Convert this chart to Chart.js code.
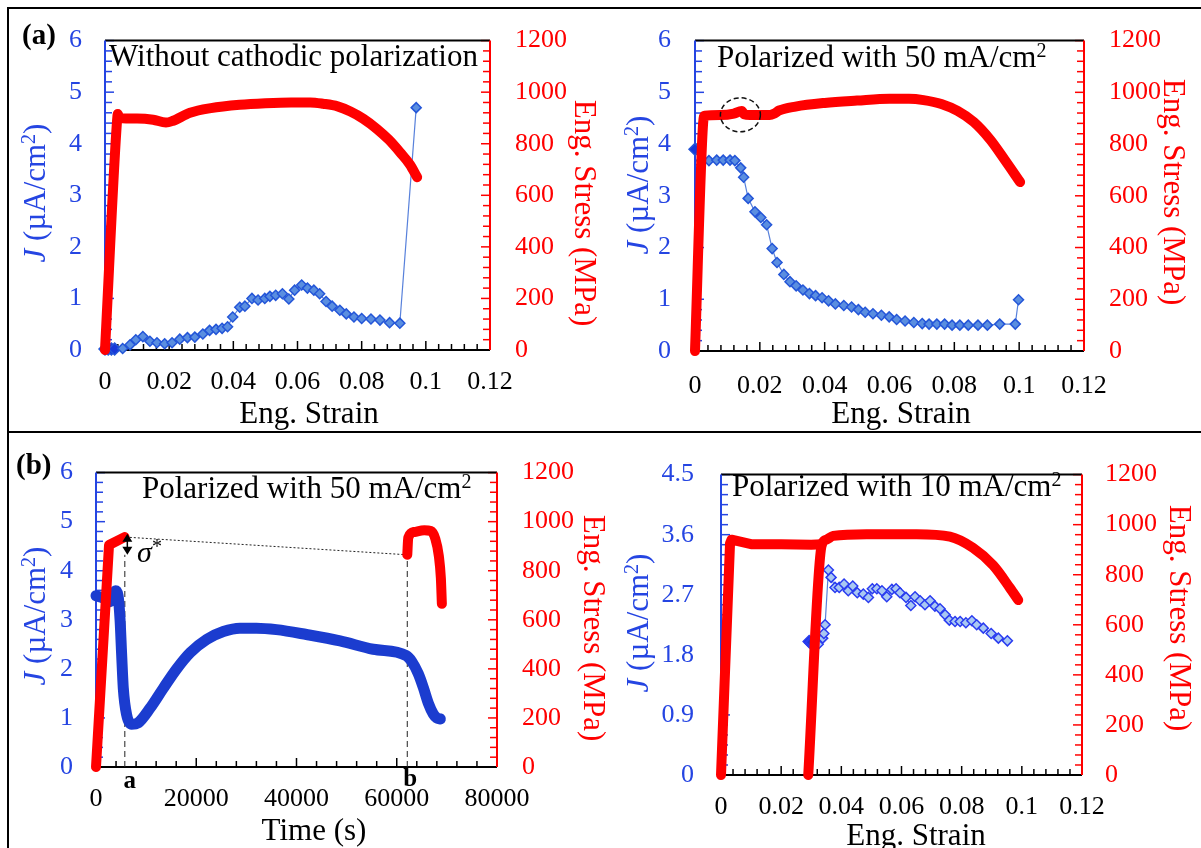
<!DOCTYPE html>
<html lang="en">
<head>
<meta charset="UTF-8">
<title>Current density and stress vs strain</title>
<script src="https://cdn.jsdelivr.net/npm/chart.js"></script>
<style>
  html, body { margin: 0; padding: 0; background: #fff; }
  body { width: 1201px; height: 848px; position: relative; overflow: hidden; }
  canvas { position: absolute; }
  .rule { position: absolute; background: #000; }
</style>
</head>
<body>
<canvas id="chartA" width="600" height="432" style="left:0;top:0"></canvas>
<canvas id="chartB" width="601" height="432" style="left:600px;top:0"></canvas>
<canvas id="chartC" width="620" height="416" style="left:0;top:432px"></canvas>
<canvas id="chartD" width="601" height="416" style="left:600px;top:432px"></canvas>
<div class="rule" style="left:7px;top:7px;width:1194px;height:2px"></div>
<div class="rule" style="left:7px;top:7px;width:2px;height:841px"></div>
<div class="rule" style="left:7px;top:431px;width:1194px;height:2px"></div>
<script>
// (a) left: without cathodic polarization
var strainJa = [0, 0.001, 0.002, 0.003, 0.0055, 0.0078, 0.0096, 0.0118, 0.014, 0.0162, 0.0186, 0.0209, 0.0233, 0.0257, 0.028, 0.0305, 0.0326, 0.0346, 0.0365, 0.0382, 0.0398, 0.042, 0.0436, 0.0458, 0.0477, 0.0498, 0.0514, 0.0532, 0.0553, 0.0573, 0.0591, 0.0613, 0.0631, 0.0651, 0.0669, 0.0689, 0.0708, 0.0732, 0.0752, 0.0776, 0.08, 0.0829, 0.0857, 0.0887, 0.0919, 0.097];
var jA = [0.02, 0.02, 0.02, 0.02, 0.03, 0.1, 0.2, 0.26, 0.17, 0.14, 0.12, 0.14, 0.21, 0.24, 0.25, 0.31, 0.38, 0.4, 0.42, 0.45, 0.64, 0.83, 0.85, 1.0, 0.97, 1.0, 1.04, 1.06, 1.09, 0.99, 1.16, 1.26, 1.2, 1.16, 1.09, 0.94, 0.85, 0.77, 0.7, 0.64, 0.61, 0.6, 0.58, 0.53, 0.52, 4.7];
var strainSa = [0, 0.0037, 0.004, 0.0045, 0.01, 0.015, 0.019, 0.021, 0.0265, 0.033, 0.042, 0.05, 0.058, 0.064, 0.068, 0.0725, 0.0765, 0.0805, 0.0848, 0.0885, 0.092, 0.095, 0.0973];
var stressA = [0, 880, 915, 900, 898, 893, 882, 888, 920, 938, 951, 957, 960, 960, 955, 945, 925, 897, 857, 815, 766, 720, 670];

// (a) right: polarized with 50 mA/cm2
var strainJb = [0, 0.002, 0.0043, 0.0067, 0.0087, 0.0108, 0.0123, 0.0141, 0.015, 0.0164, 0.0185, 0.0203, 0.0221, 0.0238, 0.0253, 0.0274, 0.0293, 0.0312, 0.0333, 0.0353, 0.0372, 0.0392, 0.0412, 0.0433, 0.0459, 0.0483, 0.0504, 0.0525, 0.0549, 0.0575, 0.0599, 0.0622, 0.0648, 0.0675, 0.0701, 0.0722, 0.0746, 0.077, 0.0793, 0.0817, 0.0843, 0.0873, 0.0902, 0.094, 0.0988, 0.0998];
var jB = [3.9, 3.68, 3.68, 3.69, 3.69, 3.69, 3.68, 3.54, 3.36, 2.95, 2.69, 2.58, 2.44, 1.98, 1.71, 1.48, 1.34, 1.26, 1.18, 1.11, 1.07, 1.03, 0.97, 0.91, 0.88, 0.85, 0.8, 0.75, 0.72, 0.69, 0.66, 0.61, 0.58, 0.55, 0.53, 0.52, 0.52, 0.52, 0.5, 0.5, 0.5, 0.5, 0.5, 0.52, 0.52, 0.99];
var strainSb = [0, 0.0025, 0.003, 0.008, 0.012, 0.0144, 0.0152, 0.017, 0.023, 0.0245, 0.026, 0.031, 0.04, 0.05, 0.06, 0.066, 0.0705, 0.076, 0.081, 0.086, 0.091, 0.0955, 0.1003];
var stressB = [0, 880, 910, 912, 918, 928, 915, 912, 912, 918, 930, 945, 959, 968, 975, 975, 970, 955, 928, 885, 818, 740, 653];

// (b) left: polarized with 50 mA/cm2, vs time
var timeJc = [0, 1500, 2800, 3500, 3900, 4400, 4800, 5100, 5450, 6100, 7100, 8400, 10800, 13400, 16100, 18800, 22100, 25400, 28700, 32000, 36000, 42000, 48700, 55300, 61900, 63000, 64300, 65300, 66300, 67300, 68000, 68700];
var jC = [3.49, 3.44, 3.37, 3.5, 3.59, 3.49, 3.0, 2.33, 1.6, 1.07, 0.87, 0.9, 1.2, 1.6, 2.0, 2.33, 2.6, 2.76, 2.83, 2.83, 2.8, 2.7, 2.57, 2.4, 2.27, 2.15, 1.9, 1.62, 1.3, 1.08, 1.0, 0.98];
var timeSc1 = [0, 2600, 5700];
var stressC1 = [0, 905, 937];
var timeSc2 = [62100, 62300, 63500, 65500, 66800, 67700, 68400, 68800, 69000];
var stressC2 = [865, 935, 958, 965, 962, 930, 860, 770, 665];
var markA = 5750, markB = 62100;
var sigmaTop = 951, sigmaLow = 865;

// (b) right: polarized with 10 mA/cm2
var strainJd = [0.0293, 0.0298, 0.0303, 0.0323, 0.0338, 0.0342, 0.0346, 0.0357, 0.0366, 0.0379, 0.0393, 0.0409, 0.0423, 0.0438, 0.0453, 0.0473, 0.049, 0.0503, 0.0518, 0.0535, 0.0551, 0.0568, 0.0582, 0.0595, 0.0615, 0.0631, 0.0645, 0.0662, 0.0678, 0.0695, 0.0711, 0.0728, 0.0745, 0.0759, 0.0778, 0.0795, 0.0814, 0.0834, 0.085, 0.0872, 0.0898, 0.0922, 0.0952];
var jD = [2.0, 1.98, 1.99, 1.96, 2.05, 2.12, 2.25, 3.07, 2.96, 2.81, 2.81, 2.86, 2.76, 2.83, 2.73, 2.71, 2.66, 2.79, 2.79, 2.76, 2.67, 2.78, 2.79, 2.73, 2.66, 2.54, 2.67, 2.61, 2.55, 2.61, 2.53, 2.49, 2.4, 2.32, 2.3, 2.3, 2.28, 2.31, 2.25, 2.2, 2.12, 2.05, 2.01];
var strainSd1 = [0, 0.003, 0.0035, 0.01, 0.02, 0.03, 0.0335];
var stressD1 = [0, 925, 940, 922, 922, 920, 922];
var strainSd2 = [0.029, 0.0335, 0.035, 0.0373, 0.0484, 0.065, 0.0761, 0.0838, 0.0905, 0.096, 0.0988];
var stressD2 = [0, 920, 940, 955, 962, 962, 952, 907, 837, 748, 699];

// tick labels
var strainTicks = [0, 0.02, 0.04, 0.06, 0.08, 0.1, 0.12];
var timeTicks = [0, 20000, 40000, 60000, 80000];
var jTicks = [0, 1, 2, 3, 4, 5, 6];
var jTicksD = [0, 0.9, 1.8, 2.7, 3.6, 4.5];
var stressTicks = [0, 200, 400, 600, 800, 1000, 1200];

var SERIF = '"Liberation Serif", "Times New Roman", serif';
var BLUE = '#2545e2';
var RED = '#ff0000';
var F31 = '31px ' + SERIF, SUP = '20px ' + SERIF;

function pts(xs, ys) {
    return xs.map(function (v, i) { return {x: v, y: ys[i]}; });
}

function stressSet(xs, ys, straight) {
    return {
        data: pts(xs, ys), yAxisID: 'y2', showLine: true,
        borderColor: RED, backgroundColor: RED, borderWidth: 10, pointRadius: 0,
        cubicInterpolationMode: straight ? 'default' : 'monotone',
        borderCapStyle: 'round', borderJoinStyle: 'round', clip: false, order: 1
    };
}

function jSet(xs, ys, fill, edge, nDark) {
    return {
        data: pts(xs, ys), yAxisID: 'y', showLine: true,
        borderColor: 'rgba(70,115,215,0.9)', borderWidth: 1.2,
        pointStyle: 'rectRot',
        pointRadius: function (c) { return c.dataIndex < nDark ? 6 : 5; },
        pointBackgroundColor: function (c) { return c.dataIndex < nDark ? '#1838d8' : fill; },
        pointBorderColor: edge, pointBorderWidth: 1.5, clip: false, order: 2
    };
}

function guideSet(xs, ys, dash) {
    return {
        data: pts(xs, ys), yAxisID: 'y2', showLine: true, borderColor: '#222',
        borderWidth: 1, borderDash: dash, pointRadius: 0, order: 3
    };
}

function seg(ctx, x1, y1, x2, y2) {
    ctx.beginPath(); ctx.moveTo(x1, y1); ctx.lineTo(x2, y2); ctx.stroke();
}

// text in pieces (italic J, small raised 2), alphabetic baseline
function rich(ctx, parts, x, y, center) {
    var total = 0;
    parts.forEach(function (p) { ctx.font = p.f; total += ctx.measureText(p.t).width; });
    var cur = center ? x - total / 2 : x;
    parts.forEach(function (p) {
        ctx.font = p.f;
        ctx.fillText(p.t, cur, y + (p.dy || 0));
        cur += ctx.measureText(p.t).width;
    });
}

function withCm2(text) {
    return [{t: text, f: F31}, {t: '2', f: SUP, dy: -10}];
}

function minorLoop(max, step, majors, fn) {
    var n = Math.round(max / step);
    for (var i = 0; i <= n; i++) {
        var v = i * step;
        fn(v, majors.some(function (m) { return Math.abs(m - v) < step / 100; }));
    }
}

// plot frame and inward ticks, like the original
function drawFrame(chart, p) {
    var ctx = chart.ctx, a = chart.chartArea, s = chart.scales;
    ctx.save();
    ctx.lineWidth = 1.5;
    ctx.strokeStyle = '#000';
    minorLoop(p.xMax, p.xMinor, p.xTicks, function (v, major) {
        var px = s.x.getPixelForValue(v);
        seg(ctx, px, a.bottom, px, a.bottom - (major ? 9 : 6));
    });
    ctx.strokeStyle = BLUE;
    minorLoop(p.jMax, p.jMinor, p.jTicks, function (v, major) {
        var py = s.y.getPixelForValue(v);
        seg(ctx, a.left, py, a.left + (major ? 9 : 7), py);
    });
    ctx.strokeStyle = RED;
    minorLoop(1200, 40, stressTicks, function (v, major) {
        var py = s.y2.getPixelForValue(v);
        seg(ctx, a.right, py, a.right - (major ? 9 : 7), py);
    });
    ctx.lineWidth = 2;
    ctx.strokeStyle = '#000';
    seg(ctx, a.left, a.top, a.right, a.top);
    seg(ctx, a.left, a.bottom, a.right, a.bottom);
    ctx.strokeStyle = BLUE;
    seg(ctx, a.left, a.top, a.left, a.bottom);
    ctx.strokeStyle = RED;
    seg(ctx, a.right, a.top, a.right, a.bottom);
    ctx.restore();
}

function drawTexts(chart, p) {
    var ctx = chart.ctx;
    var X = function (v) { return v - p.ox; }, Y = function (v) { return v - p.oy; };
    ctx.save();
    ctx.fillStyle = '#000';
    ctx.textAlign = 'left';
    ctx.textBaseline = 'alphabetic';
    if (p.label2) rich(ctx, withCm2(p.label), X(p.labelPos[0]), Y(p.labelPos[1]), false);
    else rich(ctx, [{t: p.label, f: F31}], X(p.labelPos[0]), Y(p.labelPos[1]), false);
    rich(ctx, [{t: p.xTitle, f: F31}], X(p.xTitlePos[0]), Y(p.xTitlePos[1]) + 10, true);

    ctx.save();
    ctx.translate(X(p.jPos[0]), Y(p.jPos[1]));
    ctx.rotate(-Math.PI / 2);
    ctx.fillStyle = BLUE;
    rich(ctx, [{t: 'J', f: 'italic ' + F31}, {t: ' (\u00b5A/cm', f: F31},
        {t: '2', f: SUP, dy: -10}, {t: ')', f: F31}], 0, 10, true);
    ctx.restore();

    ctx.save();
    ctx.translate(X(p.sPos[0]), Y(p.sPos[1]));
    ctx.rotate(Math.PI / 2);
    ctx.fillStyle = RED;
    rich(ctx, [{t: 'Eng. Stress (MPa)', f: F31}], 0, 10, true);
    ctx.restore();

    if (p.tag) rich(ctx, [{t: p.tag, f: 'bold 29px ' + SERIF}], X(p.tagPos[0]), Y(p.tagPos[1]) + 10, false);
    ctx.restore();
}

function makeChart(p) {
    var W = p.W, H = p.H;
    var tickFont = {family: SERIF, size: 26};
    return new Chart(document.getElementById(p.id), {
        type: 'scatter',
        data: {datasets: p.datasets},
        options: {
            responsive: false,
            animation: false,
            devicePixelRatio: 1,
            events: [],
            layout: {padding: {top: p.area.t - p.oy, left: 0, right: 0, bottom: 0}},
            plugins: {legend: {display: false}, tooltip: {enabled: false}},
            scales: {
                x: {
                    type: 'linear', position: 'bottom', min: 0, max: p.xMax,
                    afterBuildTicks: function (s) { s.ticks = p.xTicks.map(function (v) { return {value: v}; }); },
                    afterFit: function (s) { s.height = H - (p.area.b - p.oy); },
                    grid: {display: false, drawTicks: false}, border: {display: false},
                    ticks: {color: '#000', font: tickFont, padding: p.pads[2], maxRotation: 0, autoSkip: false,
                        callback: function (v) { return String(+v.toFixed(4)); }}
                },
                y: {
                    type: 'linear', position: 'left', min: 0, max: p.jMax,
                    afterBuildTicks: function (s) { s.ticks = p.jTicks.map(function (v) { return {value: v}; }); },
                    afterFit: function (s) { s.width = p.area.l - p.ox; },
                    grid: {display: false, drawTicks: false}, border: {display: false},
                    ticks: {color: BLUE, font: tickFont, padding: p.pads[0], autoSkip: false,
                        callback: function (v) { return String(+v.toFixed(2)); }}
                },
                y2: {
                    type: 'linear', position: 'right', min: 0, max: 1200,
                    afterBuildTicks: function (s) { s.ticks = stressTicks.map(function (v) { return {value: v}; }); },
                    afterFit: function (s) { s.width = W - (p.area.r - p.ox); },
                    grid: {display: false, drawTicks: false}, border: {display: false},
                    ticks: {color: RED, font: tickFont, padding: p.pads[1], autoSkip: false,
                        callback: function (v) { return String(v); }}
                }
            }
        },
        plugins: [{
            id: 'panel',
            beforeDatasetsDraw: function (chart) { drawFrame(chart, p); },
            afterDatasetsDraw: function (chart) {
                drawTexts(chart, p);
                if (p.extra) p.extra(chart);
            }
        }]
    });
}

var fillMid = '#5a8ee0', edgeMid = '#2456d8';

// (a) left
makeChart({
    id: 'chartA', ox: 0, oy: 0, W: 600, H: 432,
    area: {l: 105, r: 490, t: 33, b: 350}, pads: [23, 25, 17],
    xMax: 0.12, xTicks: strainTicks, xMinor: 0.004,
    jMax: 6, jTicks: jTicks, jMinor: 0.2,
    label: 'Without cathodic polarization', labelPos: [109, 66],
    xTitle: 'Eng. Strain', xTitlePos: [309, 413],
    jPos: [35, 193], sPos: [585, 213],
    tag: '(a)', tagPos: [22, 34],
    datasets: [stressSet(strainSa, stressA), jSet(strainJa, jA, fillMid, edgeMid, 4)]
});

// (a) right
makeChart({
    id: 'chartB', ox: 600, oy: 0, W: 601, H: 432,
    area: {l: 695, r: 1084, t: 37, b: 351}, pads: [24, 25, 20],
    xMax: 0.12, xTicks: strainTicks, xMinor: 0.004,
    jMax: 6, jTicks: jTicks, jMinor: 0.2,
    label: 'Polarized with 50 mA/cm', label2: true, labelPos: [717, 67],
    xTitle: 'Eng. Strain', xTitlePos: [901, 413],
    jPos: [638, 185], sPos: [1174, 192],
    datasets: [stressSet(strainSb, stressB), jSet(strainJb, jB, fillMid, edgeMid, 1)],
    extra: function (chart) {
        var ctx = chart.ctx, s = chart.scales;
        var cx = s.x.getPixelForValue(0.014), cy = s.y2.getPixelForValue(913);
        ctx.save();
        ctx.setLineDash([5, 3]);
        ctx.lineWidth = 1.5;
        ctx.strokeStyle = '#111';
        ctx.beginPath();
        ctx.ellipse(cx, cy, 20, 17, 0, 0, 2 * Math.PI);
        ctx.stroke();
        ctx.restore();
    }
});

// (b) left, time axis
var blueC = {
    data: pts(timeJc, jC), yAxisID: 'y', showLine: true, borderColor: '#1b3ccf',
    borderWidth: 11, pointRadius: 0, cubicInterpolationMode: 'monotone',
    borderCapStyle: 'round', borderJoinStyle: 'round', clip: false, order: 2
};
makeChart({
    id: 'chartC', ox: 0, oy: 432, W: 620, H: 416,
    area: {l: 96, r: 497, t: 465, b: 767}, pads: [23, 25, 17],
    xMax: 80000, xTicks: timeTicks, xMinor: 4000,
    jMax: 6, jTicks: jTicks, jMinor: 0.2,
    label: 'Polarized with 50 mA/cm', label2: true, labelPos: [142, 498],
    xTitle: 'Time (s)', xTitlePos: [314, 830],
    jPos: [35, 616], sPos: [594, 628],
    tag: '(b)', tagPos: [16, 464],
    datasets: [
        stressSet(timeSc1, stressC1, true), stressSet(timeSc2, stressC2), blueC,
        guideSet([markA, markA], [0, sigmaLow], [6, 4]),
        guideSet([markB, markB], [0, sigmaLow], [6, 4]),
        guideSet([markA + 200, markB], [stressC1[2], stressC2[0]], [2, 2])
    ],
    extra: function (chart) {
        var ctx = chart.ctx, s = chart.scales;
        var px = s.x.getPixelForValue(markA + 500);
        var yt = s.y2.getPixelForValue(sigmaTop), yb = s.y2.getPixelForValue(sigmaLow);
        ctx.save();
        ctx.fillStyle = '#000';
        ctx.strokeStyle = '#000';
        ctx.lineWidth = 1.5;
        seg(ctx, px, yt + 6, px, yb - 6);
        ctx.beginPath();
        ctx.moveTo(px, yt); ctx.lineTo(px - 5, yt + 8); ctx.lineTo(px + 5, yt + 8); ctx.closePath(); ctx.fill();
        ctx.beginPath();
        ctx.moveTo(px, yb); ctx.lineTo(px - 5, yb - 8); ctx.lineTo(px + 5, yb - 8); ctx.closePath(); ctx.fill();
        ctx.textAlign = 'left';
        ctx.textBaseline = 'alphabetic';
        ctx.font = 'italic 30px ' + SERIF;
        ctx.fillText('\u03c3', 137, 562 - 432);
        ctx.font = '20px ' + SERIF;
        ctx.fillText('*', 152, 553 - 432);
        ctx.font = 'bold 25px ' + SERIF;
        ctx.textAlign = 'center';
        ctx.textBaseline = 'middle';
        ctx.fillText('a', s.x.getPixelForValue(markA) + 5, 782 - 432);
        ctx.fillText('b', s.x.getPixelForValue(markB) + 3, 780 - 432);
        ctx.restore();
    }
});

// (b) right
makeChart({
    id: 'chartD', ox: 600, oy: 432, W: 601, H: 416,
    area: {l: 721, r: 1082, t: 462, b: 775}, pads: [27, 23, 17],
    xMax: 0.12, xTicks: strainTicks, xMinor: 0.004,
    jMax: 4.5, jTicks: jTicksD, jMinor: 0.15,
    label: 'Polarized with 10 mA/cm', label2: true, labelPos: [732, 496],
    xTitle: 'Eng. Strain', xTitlePos: [916, 835],
    jPos: [638, 623], sPos: [1180, 618],
    datasets: [
        stressSet(strainSd1, stressD1, true), stressSet(strainSd2, stressD2),
        jSet(strainJd, jD, '#a9c8f2', '#2a3cf0', 3)
    ]
});
</script>
</body>
</html>
